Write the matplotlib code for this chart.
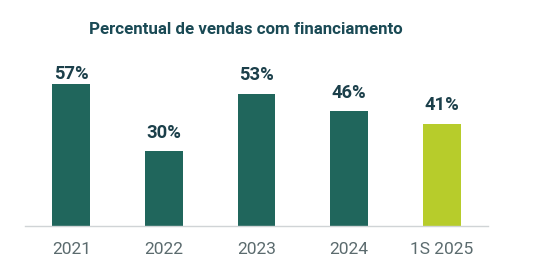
import matplotlib
matplotlib.use("Agg")
import matplotlib.pyplot as plt

categories = ["2021", "2022", "2023", "2024", "1S 2025"]
values = [57, 30, 53, 46, 41]
labels = ["57%", "30%", "53%", "46%", "41%"]
colors = ["#20665c", "#20665c", "#20665c", "#20665c", "#b7cc2b"]
title = "Percentual de vendas com financiamento"

plt.rcParams['font.family'] = ['Roboto', 'DejaVu Sans']

fig = plt.figure(figsize=(5.37, 2.69), dpi=100)
ax = fig.add_axes([25/537, 43/269, 463/537, 166/269])
x = range(len(categories))
ax.bar(x, values, width=0.41, color=colors, zorder=2)
ax.set_xlim(-0.5, 4.5)
ax.set_ylim(0, 166/2.49)
for xi, v, lab in zip(x, values, labels):
    ax.text(xi, min(v + 3.9, 57.5), lab,
            ha="center", va="bottom", fontsize=13.2, fontweight="bold",
            color="#1b3f4a")
ax.set_xticks(list(x))
ax.set_xticklabels(categories, fontsize=12.5, color="#5b6b6e")
ax.tick_params(axis="x", length=0, pad=11.5)
ax.set_yticks([])
for s in ["top", "right", "left"]:
    ax.spines[s].set_visible(False)
ax.spines["bottom"].set_color("#d0d4d6")
ax.spines["bottom"].set_linewidth(1)
fig.text(245.5/537, 1 - 30/269, title, ha="center", va="center",
         fontsize=12.2, fontweight="bold", color="#1a4a55")
fig.savefig("out.png", dpi=100, facecolor="white")
